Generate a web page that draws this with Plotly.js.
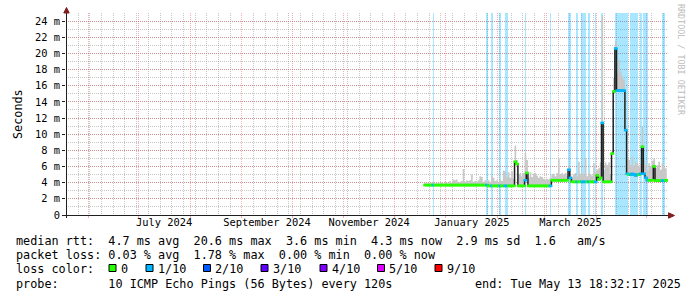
<!DOCTYPE html>
<html>
<head>
<meta charset="utf-8">
<script src="https://cdn.plot.ly/plotly-3.0.1.min.js"></script>
<style>html,body{margin:0;padding:0;background:#fff;}#chart{width:697px;height:297px;}</style>
</head>
<body>
<div id="chart"></div>
<script>
// ---------------- data ----------------
const firstDay = '2024-12-19';           // first daily sample
const rangeStart = '2024-05-18 18:32:17';
const rangeEnd = '2025-05-13 18:32:17';

// median RTT per day (ms)
const median = [
  3.7,3.7,3.7,3.7,3.7,3.7,3.7,3.7,3.7,3.7,
  3.7,3.7,3.7,3.7,3.7,3.7,3.7,3.7,3.7,3.7,
  3.7,3.7,3.7,3.7,3.7,3.7,3.7,3.7,3.7,3.7,
  3.7,3.7,3.7,3.7,3.7,3.7,3.7,3.7,3.6,3.6,
  3.6,3.6,3.6,3.6,3.6,3.6,3.6,3.6,3.6,3.6,
  3.6,3.6,3.6,3.6,6.6,6.3,3.6,3.6,3.6,3.6,
  4.3,5.2,3.6,3.6,3.6,3.6,3.6,3.6,3.6,3.6,
  3.6,3.6,3.6,3.6,3.6,3.6,4.3,4.3,4.3,4.3,
  4.3,4.3,4.3,4.3,4.3,4.3,5.6,4.6,4.1,4.1,
  4.1,4.1,4.1,4.1,4.1,4.1,4.1,4.1,4.1,4.1,
  4.1,4.1,4.1,4.9,4.4,4.6,11.4,4.1,4.1,4.1,
  4.1,4.1,7.6,15.3,20.6,15.4,15.4,15.4,15.4,15.4,
  10.5,5.1,5.0,5.0,5.1,5.0,4.9,5.0,5.0,5.1,
  8.45,5.1,4.6,4.3,4.3,4.3,4.3,6.0,4.25,4.25,
  4.25,4.25,4.25,4.25,4.3,4.3
];

// top of the ping "smoke" per day (ms)
const smokeMax = [
  4.0,3.9,4.0,3.9,4.0,4.1,3.9,4.0,3.9,4.0,
  4.0,3.9,4.1,4.0,3.9,4.2,4.0,4.4,4.3,4.4,
  4.0,4.1,4.2,5.7,4.1,4.3,4.2,4.3,5.0,4.1,
  4.2,4.1,4.3,4.8,4.7,4.1,4.3,4.2,4.3,4.1,
  4.9,4.6,4.2,4.3,4.1,4.4,4.2,5.5,5.4,4.7,
  5.3,4.6,5.4,4.5,8.6,6.8,5.0,5.2,4.8,5.2,
  7.7,6.8,4.6,5.3,4.7,5.1,5.2,4.9,4.6,4.8,
  4.7,4.5,4.4,4.5,4.4,4.6,5.0,5.1,4.8,5.2,
  7.0,5.0,5.2,5.0,5.2,4.9,6.0,5.0,4.6,5.0,
  5.2,4.8,6.6,5.1,5.2,5.0,7.0,4.8,5.2,5.0,
  4.9,6.4,5.3,5.6,5.8,6.5,24.7,5.5,6.5,6.2,
  6.5,5.0,8.0,17.0,21.5,17.5,19.2,17.8,17.2,16.8,
  10.8,7.0,6.8,6.2,7.2,6.0,6.6,6.4,6.0,6.3,
  10.9,6.8,6.2,5.5,6.4,6.0,6.7,7.0,5.8,6.2,
  6.6,5.6,6.4,6.0,5.8,5.6
];

// lost pings (out of 10) per day
const loss = [
  0,0,0,0,0,1,0,0,0,0,
  0,0,0,0,0,0,0,0,0,0,
  0,0,0,0,0,0,0,0,0,0,
  0,0,0,0,0,0,0,1,0,0,
  1,0,0,0,0,1,0,0,1,1,
  0,0,0,0,0,0,0,0,0,0,
  1,0,0,0,0,0,0,0,0,0,
  0,0,0,0,0,1,0,0,0,0,
  0,0,0,0,0,0,1,1,0,0,
  0,1,0,0,1,1,1,0,1,0,
  0,0,1,0,0,0,1,0,0,0,
  0,0,0,0,1,1,1,1,1,1,
  1,1,0,1,1,1,1,1,0,1,
  0,1,1,1,0,0,0,0,0,0,
  0,0,1,1,0,0
];

const yMax = 25;
const yTickVals = [0,2,4,6,8,10,12,14,16,18,20,22,24];
const yTickText = ['0','2 m','4 m','6 m','8 m','10 m','12 m','14 m','16 m','18 m','20 m','22 m','24 m'];
const monthLabelDates = ['2024-07-16 12:00','2024-09-16','2024-11-16','2025-01-16 12:00','2025-03-16 12:00'];
const monthLabels = ['July 2024','September 2024','November 2024','January 2025','March 2025'];

const lossLevels = [0,1,2,3,4,5,9];
const lossLabels = ['0','1/10','2/10','3/10','4/10','5/10','9/10'];
const lossColors = ['#26ff00','#00b8ff','#0059ff','#5e00ff','#7e00ff','#dd00ff','#ff0000'];

const statLine1 = 'median rtt:  4.7 ms avg  20.6 ms max  3.6 ms min  4.3 ms now  2.9 ms sd  1.6   am/s';
const statLine2 = 'packet loss: 0.03 % avg  1.78 % max  0.00 % min  0.00 % now';
const lossTitle = 'loss color:';
const probeLine = 'probe:       10 ICMP Echo Pings (56 Bytes) every 120s';
const endLine = 'end: Tue May 13 18:32:17 2025';
const yTitle = 'Seconds';
const watermark = 'RRDTOOL / TOBI OETIKER';

// ---------------- helpers ----------------
const DAY = 86400000;
const t0 = Date.parse(firstDay + 'T00:00:00Z');
function iso(ms) { return new Date(ms).toISOString().replace('T', ' ').slice(0, 19); }
const days = median.map((_, i) => iso(t0 + i * DAY));
const dayMids = median.map((_, i) => iso(t0 + i * DAY + DAY / 2));
function lossColor(n) {
  let c = lossColors[0];
  lossLevels.forEach((lv, k) => { if (n >= lv) c = lossColors[k]; });
  return c;
}
const nb = s => s.replace(/ /g, '\u00a0');

const W = 697, H = 297, ML = 66, MR = 29, MT = 13, MB = 82;
const PW = W - ML - MR, PH = H - MT - MB;
const px = p => (p - ML) / PW;
const py = p => (H - MB - p) / PH;

const MONO = 'DejaVu Sans Mono, monospace';
const MGRID = 'rgba(222,79,79,0.45)';
const GRID = 'rgba(143,143,143,0.5)';
const AXIS = '#1f1f1f';
const ARROW = '#801f1f';

// ---------------- traces ----------------
const lossIdx = loss.map((v, i) => v > 0 ? i : -1).filter(i => i >= 0);
const traces = [
  { type: 'bar', x: lossIdx.map(i => dayMids[i]), y: lossIdx.map(() => yMax),
    width: lossIdx.map(() => DAY), marker: { color: lossIdx.map(i => lossColor(loss[i])), opacity: 0.34, line: { width: 0 } },
    hoverinfo: 'skip' },
  { type: 'scatter', mode: 'lines', x: days, y: median, line: { width: 0, shape: 'hv' }, hoverinfo: 'skip' },
  { type: 'scatter', mode: 'lines', x: days, y: smokeMax, fill: 'tonexty', fillcolor: '#c8c8c8',
    line: { width: 0, shape: 'hv' }, hoverinfo: 'skip' },
  { type: 'scatter', mode: 'lines', x: days, y: median, line: { width: 1.5, shape: 'hv', color: AXIS }, hoverinfo: 'skip' },
  { type: 'scatter', mode: 'markers', x: dayMids, y: median,
    marker: { symbol: 'line-ew', size: 2.6, line: { width: 2.6, color: loss.map(lossColor) } }, hoverinfo: 'skip' },
  { type: 'scatter', mode: 'markers', x: [], y: [], xaxis: 'x2', yaxis: 'y', hoverinfo: 'skip' }
];

// ---------------- layout ----------------
const shapes = [
  { type: 'line', xref: 'paper', yref: 'paper', x0: px(66.5), x1: px(66.5), y0: py(218), y1: py(10), line: { color: AXIS, width: 1 } },
  { type: 'line', xref: 'paper', yref: 'paper', x0: px(62), x1: px(670), y0: py(215.5), y1: py(215.5), line: { color: AXIS, width: 1 } },
  { type: 'path', xref: 'paper', yref: 'paper', fillcolor: ARROW, line: { color: ARROW, width: 1 },
    path: `M ${px(63.8)} ${py(13)} L ${px(69.2)} ${py(13)} L ${px(66.5)} ${py(7.5)} Z` },
  { type: 'path', xref: 'paper', yref: 'paper', fillcolor: ARROW, line: { color: ARROW, width: 1 },
    path: `M ${px(668.5)} ${py(212.8)} L ${px(668.5)} ${py(218.2)} L ${px(674.5)} ${py(215.5)} Z` }
];
const boxX = [109, 146, 203.5, 261, 320, 377.5, 435];
const annotations = [
  { text: yTitle, x: px(10), y: py(114), textangle: -90, font: { family: MONO, size: 11.8, color: '#000' } },
  { text: watermark, x: px(687), y: py(60), textangle: 90, font: { family: MONO, size: 8.4, color: '#bcbcbc' } },
  { text: nb(statLine1), x: px(15), y: py(241), xanchor: 'left', font: { family: MONO, size: 11.8, color: '#000' } },
  { text: nb(statLine2), x: px(15), y: py(255), xanchor: 'left', font: { family: MONO, size: 11.8, color: '#000' } },
  { text: nb(lossTitle), x: px(15), y: py(268.5), xanchor: 'left', font: { family: MONO, size: 11.8, color: '#000' } },
  { text: nb(probeLine), x: px(15), y: py(283.5), xanchor: 'left', font: { family: MONO, size: 11.8, color: '#000' } },
  { text: nb(endLine), x: px(682), y: py(283.5), xanchor: 'right', font: { family: MONO, size: 11.8, color: '#000' } }
];
lossLabels.forEach((lab, k) => {
  shapes.push({ type: 'rect', xref: 'paper', yref: 'paper', x0: px(boxX[k]), x1: px(boxX[k] + 7), y0: py(271.5), y1: py(264.5),
    fillcolor: lossColors[k], line: { color: '#000', width: 1 } });
  annotations.push({ text: lab, x: px(boxX[k] + 10.5), y: py(268.5), xanchor: 'left', font: { family: MONO, size: 11.8, color: '#000' } });
});
annotations.forEach(a => { a.xref = 'paper'; a.yref = 'paper'; a.showarrow = false; if (!a.yanchor) a.yanchor = 'middle'; a.borderpad = 0; });

const layout = {
  width: W, height: H,
  margin: { l: ML, r: MR, t: MT, b: MB, pad: 0 },
  paper_bgcolor: '#ffffff', plot_bgcolor: '#ffffff',
  showlegend: false, bargap: 0, barmode: 'overlay',
  font: { family: MONO, size: 10.4, color: '#000' },
  xaxis: {
    type: 'date', range: [rangeStart, rangeEnd], autorange: false, fixedrange: true,
    tick0: '2024-06-01', dtick: 'M1', showticklabels: false,
    ticks: 'outside', ticklen: 2, tickcolor: MGRID,
    showgrid: true, gridcolor: MGRID, griddash: '1px,1px', gridwidth: 1,
    minor: { dtick: 7 * DAY, tick0: '2024-05-19', showgrid: true, gridcolor: GRID, griddash: '1px,1px', gridwidth: 1, ticks: '' },
    zeroline: false, showline: false
  },
  xaxis2: {
    type: 'date', overlaying: 'x', anchor: 'y', side: 'bottom', range: [rangeStart, rangeEnd], autorange: false, fixedrange: true,
    tickmode: 'array', tickvals: monthLabelDates, ticktext: monthLabels, ticks: '', showgrid: false, zeroline: false, showline: false,
    tickfont: { family: MONO, size: 10.4, color: '#000' }
  },
  yaxis: {
    range: [0, yMax], autorange: false, fixedrange: true,
    tickmode: 'array', tickvals: yTickVals, ticktext: yTickText,
    ticks: 'outside', ticklen: 3, tickcolor: AXIS,
    showgrid: true, gridcolor: MGRID, griddash: '1px,1px', gridwidth: 1,
    minor: { dtick: 1, tick0: 0, showgrid: true, gridcolor: GRID, griddash: '1px,1px', gridwidth: 1, ticks: '' },
    zeroline: false, showline: false,
    tickfont: { family: MONO, size: 10.4, color: '#000' }
  },
  shapes: shapes,
  annotations: annotations
};

Plotly.newPlot('chart', traces, layout, { staticPlot: true, displayModeBar: false });
</script>
</body>
</html>
